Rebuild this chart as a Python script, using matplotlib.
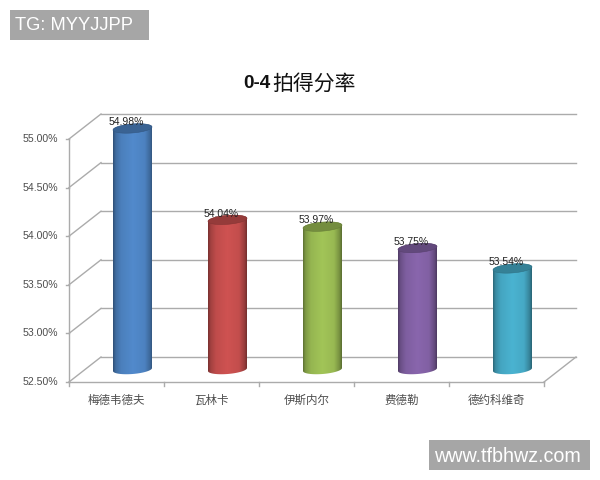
"""Excel-style 3D cylinder chart of 0-4 break point win rates."""

import numpy as np
import matplotlib

matplotlib.use("Agg")
import matplotlib.pyplot as plt
from matplotlib.colors import to_rgb
from matplotlib.patches import Polygon, Rectangle
from matplotlib.path import Path

plt.rcParams["font.family"] = ["Liberation Sans", "Noto Sans CJK SC", "DejaVu Sans"]

players = ["梅德韦德夫", "瓦林卡", "伊斯内尔", "费德勒", "德约科维奇"]
rates = [54.98, 54.04, 53.97, 53.75, 53.54]
rate_labels = ["54.98%", "54.04%", "53.97%", "53.75%", "53.54%"]
bar_colors = ["#4f86c6", "#c9504f", "#9dbf55", "#8563a8", "#48aecb"]
y_ticks = [52.5, 53.0, 53.5, 54.0, 54.5, 55.0]
y_labels = ["52.50%", "53.00%", "53.50%", "54.00%", "54.50%", "55.00%"]

# scales: pixels per category / per percentage point on the front plane
PX_X, PX_Y = 95.0, 97.2
DEPTH_X, DEPTH_Y = 32 / PX_X, 25 / PX_Y
GRID = "#ababab"
TEXT = "#4d4d4d"


def cylinder_outline(cx, top, bottom, a, b, s):
    t_top = np.linspace(np.pi, 0, 40)
    t_bot = np.linspace(0, -np.pi, 40)
    xs = np.r_[cx + a * np.cos(t_top), cx + a * np.cos(t_bot)]
    ys = np.r_[top + b * np.sin(t_top) + s * np.cos(t_top), bottom + b * np.sin(t_bot) + s * np.cos(t_bot)]
    return np.c_[xs, ys]


def cylinder(ax, cx, value, color):
    a, b, s = 19.5 / PX_X, 4.5 / PX_Y, 1.5 / PX_Y
    base = y_ticks[0] + DEPTH_Y / 2
    top = value + DEPTH_Y / 2
    rgb = np.array(to_rgb(color))
    stops = [0.0, 0.06, 0.2, 0.5, 0.8, 0.94, 1.0]
    shade = [0.6, 0.8, 0.95, 1.03, 0.97, 0.76, 0.58]
    u = np.linspace(0, 1, 80)
    strip = np.clip(np.interp(u, stops, shade)[None, :, None] * rgb[None, None, :], 0, 1)
    im = ax.imshow(strip, extent=(cx - a, cx + a, base - b - s, top + b + s), aspect="auto", zorder=3, interpolation="bilinear")
    im.set_clip_path(Path(cylinder_outline(cx, top, base, a, b, s)), transform=ax.transData)
    t = np.linspace(0, 2 * np.pi, 60)
    cap = np.c_[cx + a * np.cos(t), top + b * np.sin(t) + s * np.cos(t)]
    ax.add_patch(Polygon(cap, closed=True, facecolor=rgb * 0.74, edgecolor=rgb * 0.66, linewidth=0.4, zorder=4))


def main():
    fig = plt.figure(figsize=(6, 4.8), dpi=100, facecolor="white")
    ax = fig.add_axes([0, 0, 1, 1])
    ax.axis("off")

    left, right = -0.5, len(players) - 0.5
    floor = y_ticks[0]

    # walls and gridlines
    for value in y_ticks:
        ax.plot([left, left + DEPTH_X], [value, value + DEPTH_Y], color=GRID, lw=1.0, zorder=1)
        ax.plot([left + DEPTH_X, right + DEPTH_X], [value + DEPTH_Y] * 2, color=GRID, lw=1.0, zorder=1)
        ax.plot([left - 2.5 / PX_X, left], [value, value], color=GRID, lw=1.0, zorder=1)
        ax.text(left - 11 / PX_X, value, y_labels[y_ticks.index(value)], ha="right", va="center", fontsize=7.6, color=TEXT)
    ax.plot([left, left], [y_ticks[0], y_ticks[-1]], color=GRID, lw=1.0, zorder=1)
    ax.plot([left, right], [floor, floor], color=GRID, lw=1.0, zorder=1)
    ax.plot([right, right + DEPTH_X], [floor, floor + DEPTH_Y], color=GRID, lw=1.0, zorder=1)
    for i in range(len(players) + 1):
        ax.plot([left + i] * 2, [floor, floor - 4 / PX_Y], color=GRID, lw=1.0, zorder=1)

    # bars and labels
    for i, (name, value, label, color) in enumerate(zip(players, rates, rate_labels, bar_colors)):
        cx = i + DEPTH_X / 2
        cylinder(ax, cx, value, color)
        ax.annotate(label, (cx, value + DEPTH_Y / 2), xytext=(-4.7, 4.5), textcoords="offset points",
                    ha="center", va="center", fontsize=7.5, color="#222222", zorder=5)
        ax.text(i, floor - 18.5 / PX_Y, name, ha="center", va="center", fontsize=8.3, color=TEXT)

    ax.set_xlim(-116.5 / PX_X, (600 - 116.5) / PX_X)
    ax.set_ylim(floor - 98 / PX_Y, floor + 382 / PX_Y)

    # title, set in two runs because only the digits are heavy
    fig.text(271 / 600, 1 - 84 / 480, "0-4", ha="right", va="center", fontsize=13.6, weight="bold", color="#111111")
    fig.text(272 / 600, 1 - 84 / 480, "拍得分率", ha="left", va="center", fontsize=15, color="#111111",
             family=["Noto Sans CJK SC"], weight="medium")

    # watermarks
    fig.add_artist(Rectangle((10 / 600, 1 - 40 / 480), 139 / 600, 30 / 480, transform=fig.transFigure, facecolor="#a6a6a6", edgecolor="none"))
    fig.text(15 / 600, 1 - 25.5 / 480, "TG: MYYJJPP", ha="left", va="center", fontsize=13.2, color="white")
    fig.add_artist(Rectangle((429 / 600, 1 - 470 / 480), 161 / 600, 30 / 480, transform=fig.transFigure, facecolor="#a6a6a6", edgecolor="none"))
    fig.text(434 / 600, 1 - 456 / 480, "www.tfbhwz.com", ha="left", va="center", fontsize=14.2, color="white")

    fig.savefig("out.png", dpi=100, facecolor="white")


if __name__ == "__main__":
    main()
